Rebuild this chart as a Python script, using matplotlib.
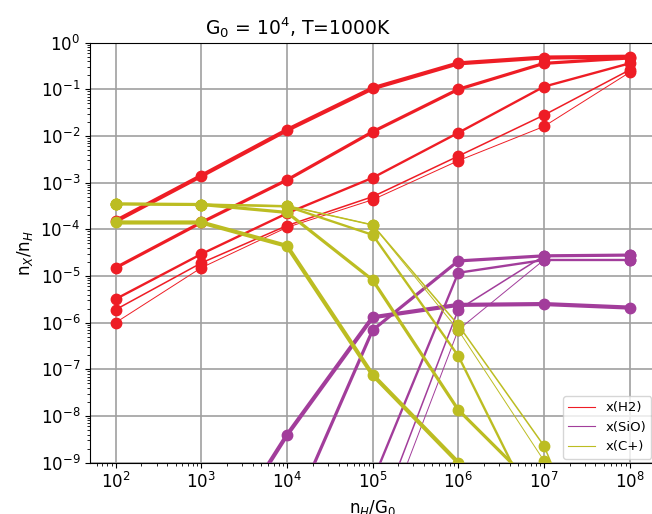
import matplotlib
matplotlib.use("Agg")
import matplotlib.pyplot as plt
from matplotlib.lines import Line2D
from matplotlib.ticker import LogLocator, NullFormatter
import numpy as np

nH_over_G0 = [1e2, 1e3, 1e4, 1e5, 1e6, 1e7, 1e8]

# x(H2), one list per model (thickest line first)
h2_a = [1.5e-4, 1.4e-3, 1.34e-2, 0.105, 0.36, 0.48, 0.50]
h2_b = [1.5e-5, 1.4e-4, 1.14e-3, 1.23e-2, 0.10, 0.36, 0.47]
h2_c = [3.2e-6, 2.95e-5, 2.2e-4, 1.27e-3, 1.17e-2, 0.114, 0.36]
h2_d = [1.9e-6, 1.9e-5, 1.2e-4, 5.0e-4, 3.7e-3, 2.8e-2, 0.26]
h2_e = [1.0e-6, 1.5e-5, 1.1e-4, 4.3e-4, 2.95e-3, 1.6e-2, 0.23]

# x(SiO)
sio_a = [1e-15, 5e-12, 3.9e-9, 1.3e-6, 2.4e-6, 2.5e-6, 2.1e-6]
sio_b = [1e-18, 1e-14, 4.4e-11, 6.9e-7, 2.1e-5, 2.7e-5, 2.8e-5]
sio_c = [1e-20, 1e-17, 1e-14, 4e-10, 1.17e-5, 2.2e-5, 2.2e-5]
sio_d = [1e-22, 1e-19, 1e-15, 3e-11, 1.9e-6, 2.7e-5, 2.8e-5]
sio_e = [1e-22, 1e-19, 1e-16, 1.1e-11, 7e-7, 2.2e-5, 2.2e-5]

# x(C+)
cp_a = [1.4e-4, 1.4e-4, 4.4e-5, 7.6e-8, 1.0e-9, 1e-11, 1e-13]
cp_b = [3.5e-4, 3.4e-4, 2.3e-4, 8.2e-6, 1.35e-8, 2e-10, 1e-12]
cp_c = [3.5e-4, 3.4e-4, 3.1e-4, 7.6e-5, 1.94e-7, 4e-11, 1e-13]
cp_d = [3.5e-4, 3.4e-4, 3.2e-4, 1.24e-4, 8.9e-7, 2.3e-9, 1e-13]
cp_e = [3.5e-4, 3.4e-4, 3.2e-4, 1.24e-4, 6.9e-7, 1.1e-9, 1e-13]

species = ["x(H2)", "x(SiO)", "x(C+)"]
colors = ["#ee1d25", "#a23d9b", "#bcbd22"]
series = [
    [h2_a, h2_b, h2_c, h2_d, h2_e],
    [sio_a, sio_b, sio_c, sio_d, sio_e],
    [cp_a, cp_b, cp_c, cp_d, cp_e],
]
widths = [3.0, 2.3, 1.7, 1.1, 0.7]

fig = plt.figure(figsize=(6.52, 5.14), dpi=100)
ax = fig.add_axes([0.138, 0.1, 0.867, 0.817])

for runs, col in zip(series, colors):
    for vals, lw in zip(runs, widths):
        ax.plot(nH_over_G0, vals, "-o", color=col, lw=lw, ms=7.5)

ax.set_xscale("log")
ax.set_yscale("log")
ax.set_xlim(10**1.7, 10**8.3)
ax.set_ylim(1e-9, 1)
ax.set_yticks(10.0 ** np.arange(-9, 1))
ax.yaxis.set_minor_locator(LogLocator(base=10, subs=np.arange(2, 10), numticks=100))
ax.yaxis.set_minor_formatter(NullFormatter())
ax.xaxis.set_minor_locator(LogLocator(base=10, subs=np.arange(2, 10), numticks=100))
ax.xaxis.set_minor_formatter(NullFormatter())
ax.tick_params(labelsize=12)
ax.grid(True, which="major", color="#a0a0a0", lw=1.2)

# title sits left of the axes centre in the reference
ax.set_title(r"G$_0$ = 10$^4$, T=1000K", fontsize=13.5, x=0.368)
ax.set_xlabel(r"n$_H$/G$_0$", fontsize=12)
ax.set_ylabel(r"n$_X$/n$_H$", fontsize=12)

handles = [Line2D([], [], color=c, lw=0.8) for c in colors]
ax.legend(handles, species, loc="lower right", fontsize=9.5, borderaxespad=0.3)

fig.savefig("out.png", dpi=100)
